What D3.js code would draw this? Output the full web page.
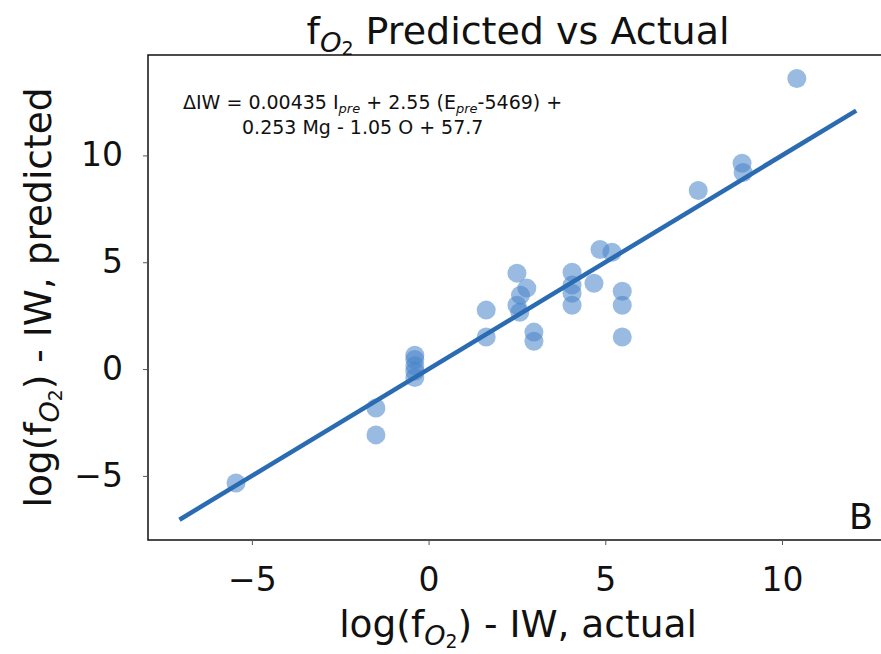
<!DOCTYPE html>
<html>
<head>
<meta charset="utf-8">
<script src="https://cdn.jsdelivr.net/npm/d3@7"></script>
<style>
  html, body { margin: 0; padding: 0; background: #fff; }
  svg { display: block; font-family: "DejaVu Sans", sans-serif; }
</style>
</head>
<body>
<svg id="chart" width="881" height="654"></svg>
<script>
// Measured log(fO2) - IW values, actual vs predicted
const actual = [
  -5.45, -1.49, -1.49,
  -0.39, -0.39, -0.39, -0.39, -0.39,
  1.63, 1.63,
  2.50, 2.78, 2.60, 2.50, 2.58, 2.98, 2.98,
  4.06, 4.06, 4.06, 4.06, 4.68,
  4.85, 5.19,
  5.48, 5.48, 5.48,
  7.63, 8.87, 8.90,
  10.42
];
const predicted = [
  -5.33, -1.82, -3.08,
  0.65, 0.45, 0.15, -0.10, -0.40,
  2.76, 1.50,
  4.49, 3.79, 3.46, 2.99, 2.66, 1.73, 1.30,
  4.53, 3.93, 3.55, 2.99, 4.02,
  5.60, 5.47,
  3.64, 2.99, 1.50,
  8.36, 9.63, 9.20,
  13.60
];
// Fitted 1:1 line end points
const fitLine = [[-7.05, -7.05], [12.1, 12.1]];
const xTicks = [-5, 0, 5, 10];
const yTicks = [-5, 0, 5, 10];
const xDomain = [-7.94, 13.0];
const yDomain = [-8.0, 14.7];

const svg = d3.select("#chart");
const m = { left: 148, right: 888, top: 55, bottom: 540 };

const x = d3.scaleLinear().domain(xDomain).range([m.left, m.right]);
const y = d3.scaleLinear().domain(yDomain).range([m.bottom, m.top]);

const plot = svg.append("g");

// points
plot.selectAll("circle.pt")
  .data(actual.map((a, i) => [a, predicted[i]]))
  .join("circle")
  .attr("class", "pt")
  .attr("cx", d => x(d[0]))
  .attr("cy", d => y(d[1]))
  .attr("r", 9.5)
  .attr("fill", "#4783c8")
  .attr("fill-opacity", 0.55);

// fit line
plot.append("path")
  .datum(fitLine)
  .attr("d", d3.line().x(d => x(d[0])).y(d => y(d[1])))
  .attr("stroke", "#2b6bb2")
  .attr("stroke-width", 4.5)
  .attr("fill", "none");

// frame
svg.append("rect")
  .attr("x", m.left).attr("y", m.top)
  .attr("width", m.right - m.left).attr("height", m.bottom - m.top)
  .attr("fill", "none").attr("stroke", "#111").attr("stroke-width", 1.5);

// axes
const fmt = d => (d < 0 ? "\u2212" + Math.abs(d) : String(d));
const xAxis = svg.append("g").attr("transform", `translate(0,${m.bottom})`)
  .call(d3.axisBottom(x).tickValues(xTicks).tickSize(5).tickPadding(15).tickFormat(fmt));
const yAxis = svg.append("g").attr("transform", `translate(${m.left},0)`)
  .call(d3.axisLeft(y).tickValues(yTicks).tickSize(5).tickPadding(20).tickFormat(fmt));
[xAxis, yAxis].forEach(g => {
  g.select(".domain").remove();
  g.selectAll(".tick line").attr("stroke", "#555").attr("stroke-width", 1);
  g.selectAll(".tick text").attr("fill", "#111").attr("font-size", 33)
    .attr("font-family", "DejaVu Sans, sans-serif");
});
xAxis.selectAll(".tick text").attr("dy", "0.95em");

// helper: text with fO2 subscript
function fo2(t, pre, post, size) {
  t.append("tspan").text(pre + "f");
  t.append("tspan").attr("font-size", size * 0.72).attr("font-style", "italic")
    .attr("dy", size * 0.2).text("O");
  t.append("tspan").attr("font-size", size * 0.5)
    .attr("dy", size * 0.08).text("2");
  t.append("tspan").attr("dy", -size * 0.28).text(post);
}

// title
const title = svg.append("text")
  .attr("x", (m.left + m.right) / 2).attr("y", 44)
  .attr("text-anchor", "middle").attr("font-size", 38).attr("fill", "#111");
fo2(title, "", " Predicted vs Actual", 38);

// x label
const xl = svg.append("text")
  .attr("x", (m.left + m.right) / 2).attr("y", 637)
  .attr("text-anchor", "middle").attr("font-size", 37.5).attr("fill", "#111");
fo2(xl, "log(", ") - IW, actual", 37.5);

// y label
const yl = svg.append("text")
  .attr("transform", `translate(51,${(m.top + m.bottom) / 2}) rotate(-90)`)
  .attr("text-anchor", "middle").attr("font-size", 37.5).attr("fill", "#111");
fo2(yl, "log(", ") - IW, predicted", 37.5);

// regression equation
const eq = svg.append("g").attr("fill", "#111").attr("font-size", 19);
const l1 = eq.append("text").attr("x", 183).attr("y", 109);
l1.append("tspan").text("\u0394IW = 0.00435 I");
l1.append("tspan").attr("font-size", 13).attr("font-style", "italic").attr("dy", 4).text("pre");
l1.append("tspan").attr("dy", -4).text(" + 2.55 (E");
l1.append("tspan").attr("font-size", 13).attr("font-style", "italic").attr("dy", 4).text("pre");
l1.append("tspan").attr("dy", -4).text("-5469) +");
eq.append("text").attr("x", 242).attr("y", 134).text("0.253 Mg - 1.05 O + 57.7");

// panel letter
svg.append("text").attr("x", 849).attr("y", 529)
  .attr("font-size", 35).attr("fill", "#111").text("B");
</script>
</body>
</html>
